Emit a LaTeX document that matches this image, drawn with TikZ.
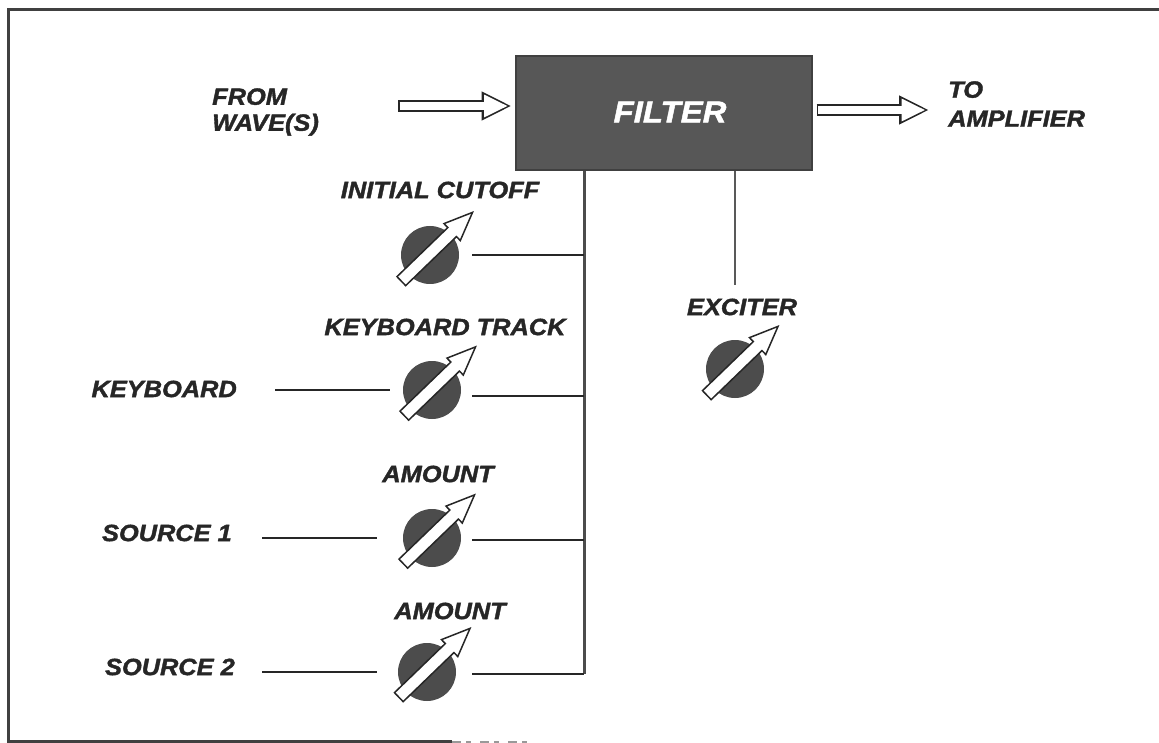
\documentclass[tikz,border=0pt]{standalone}
\usepackage{fontspec}
\setmainfont[BoldItalicFeatures={FakeBold=1.6,FakeStretch=1.08}]{Liberation Sans}
\usetikzlibrary{arrows.meta,positioning,shapes.arrows}

\begin{document}
\begin{tikzpicture}[
      x=1pt, y=-1pt,
      every node/.style={font=\fontsize{23.5}{26}\selectfont\bfseries\itshape, text=black!85, inner sep=0pt},
      filterbox/.style={
        draw=black!75, line width=2pt, fill=black!66, minimum width=296pt, minimum height=114pt
      },
      knob/.style={
        circle, minimum size=58pt, fill=black!70
      },
      dial/.style={
        single arrow, draw=black!85, fill=white, line width=1.5pt, rotate=44, inner sep=5.5pt,
        minimum height=99pt, minimum width=23pt,
        single arrow head extend=5.5pt, single arrow tip angle=45
      },
      wire/.style={draw=black!85, line width=1.5pt},
      bus/.style={draw=black!70, line width=3pt},
      border/.style={draw=black!75, line width=3pt},
      hollow/.style 2 args={
        preaction={draw=black!85, line width=11.5pt, shorten <=#1, shorten >=#2,
          -{Triangle[length=30pt,width=27pt]}},
        draw=white, line width=8.5pt, shorten <=#1+1.5pt, shorten >=#2+3.5pt,
        -{Triangle[length=24pt,width=21pt]}
      }
    ]
    \useasboundingbox (0,0) rectangle (1159,743);

    % frame
    \draw[border] (1159,10) -- (8,10) -- (8,741.5) -- (452,741.5);
    \draw[draw=black!40, line width=2pt, dash pattern=on 9pt off 5pt on 5pt off 9pt] (452,741.5) -- (532,741.5);

    % filter and signal path
    \node[filterbox] (filter) at (663.5,113.5) {};
    \node[text=white, font=\fontsize{30.5}{36}\selectfont\bfseries\itshape] (filtername) at (670,112) {FILTER};
    \node[align=left, anchor=west] (wave) at (212,112) {FROM\\WAVE(S)};
    \node[align=left, anchor=west] (amp) at (948,104) {TO\\[3pt]AMPLIFIER};
    \coordinate (wavein) at (398,106);
    \coordinate (ampout) at (929,110);
    \draw[hollow={0pt}{3pt}] (wavein) -- (filter.west |- wavein);
    \draw[hollow={4pt}{0pt}] (filter.east |- ampout) -- (ampout);

    % knobs
    \node[knob] (cutoff) at (430,255) {};
    \node[knob] (track) at (432,390) {};
    \node[knob] (amount1) at (432,538) {};
    \node[knob] (amount2) at (427,672) {};
    \node[knob] (exciter) at (735,369) {};

    \node[dial] (dialcutoff) at ([shift={(1.5,-3)}]cutoff.center) {};
    \node[dial] (dialtrack) at ([shift={(2.5,-3.5)}]track.center) {};
    \node[dial] (dialamount1) at ([shift={(1.5,-3.5)}]amount1.center) {};
    \node[dial] (dialamount2) at ([shift={(2,-4)}]amount2.center) {};
    \node[dial] (dialexciter) at ([shift={(2,-3)}]exciter.center) {};

    % knob names
    \node (cutoffname) at (440,190) {INITIAL CUTOFF};
    \node (trackname) at (445,327) {KEYBOARD TRACK};
    \node (amount1name) at (438,474) {AMOUNT};
    \node (amount2name) at (450,611) {AMOUNT};
    \node (excitername) at (742,307) {EXCITER};

    % sources
    \node[anchor=east] (keyboard) at (237,389) {KEYBOARD};
    \node[anchor=east] (source1) at (232,533) {SOURCE 1};
    \node[anchor=east] (source2) at (235,667) {SOURCE 2};

    \draw[wire, shorten <=38pt, shorten >=13pt] (keyboard.east |- track.west) -- (track.west);
    \draw[wire, shorten <=30pt, shorten >=26pt] (source1.east |- amount1.west) -- (amount1.west);
    \draw[wire, shorten <=27pt, shorten >=21pt] (source2.east |- amount2.west) -- (amount2.west);

    % control bus
    \coordinate (tapcutoff) at (584,255);
    \coordinate (taptrack) at (584,396);
    \coordinate (tapamount1) at (584,540);
    \coordinate (tapamount2) at (584,674);
    \draw[bus] (filter.south -| tapamount2) -- (tapamount2);
    \draw[wire, shorten <=13pt] (cutoff.east |- tapcutoff) -- (tapcutoff);
    \draw[wire, shorten <=11pt] (track.east |- taptrack) -- (taptrack);
    \draw[wire, shorten <=11pt] (amount1.east |- tapamount1) -- (tapamount1);
    \draw[wire, shorten <=16pt] (amount2.east |- tapamount2) -- (tapamount2);
    \draw[draw=black!65, line width=2pt] (filter.south -| exciter) -- ++(0,114);
  \end{tikzpicture}
\end{document}
